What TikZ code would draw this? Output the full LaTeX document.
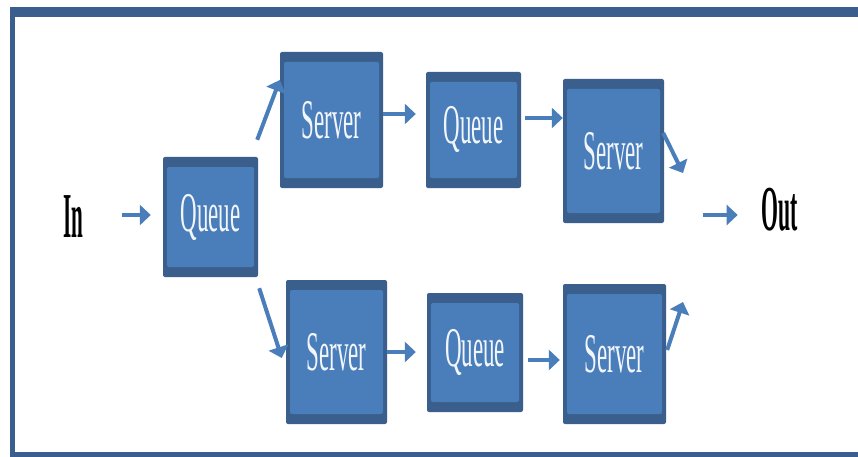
\documentclass[tikz,border=0pt]{standalone}
\usepackage{fontspec}
\setmainfont{Liberation Serif}
\usetikzlibrary{arrows.meta,calc}
\definecolor{framecol}{HTML}{3A5F8E}
\definecolor{boxdark}{HTML}{3B5F8C}
\definecolor{boxlight}{HTML}{4A7EBB}
\definecolor{arrowcol}{HTML}{4A7EBB}
\definecolor{boxtext}{HTML}{F2F6FB}
\newcommand\boxlabel[1]{\scalebox{0.41}[1]{\fontsize{56}{56}\selectfont #1}}
\newcommand\iolabel[2]{\scalebox{#2}[1]{\fontsize{64}{64}\selectfont\bfseries #1}}
\tikzset{
  boxnode/.style={fill=boxdark, rounded corners=2pt, inner sep=0pt, text=boxtext,
    path picture={\fill[boxlight] ([shift={(4pt,-10pt)}]path picture bounding box.north west)
      rectangle ([shift={(-4pt,10pt)}]path picture bounding box.south east);}},
  ionode/.style={inner sep=0pt, text=black},
  flow/.style={draw=arrowcol, line width=4pt, -{Triangle[width=20pt,length=11pt]}},
  framepart/.style={fill=framecol}
}
\begin{document}
\begin{tikzpicture}[x=1pt,y=-1pt]
\useasboundingbox (0,0) rectangle (858,457);
\fill[white] (0,0) rectangle (858,457);
% frame
\fill[framepart] (10,7) rectangle (858,17);
\fill[framepart] (10,7) rectangle (14.5,457);
\fill[framepart] (10,452) rectangle (858,457);
% boxes
\node[boxnode, minimum width=95pt, minimum height=120pt] (q1) at (210.5,217) {\boxlabel{Queue}};
\node[boxnode, minimum width=103pt, minimum height=136pt] (s1) at (331.5,120) {\boxlabel{Server}};
\node[boxnode, minimum width=95pt, minimum height=116pt] (q2) at (473.5,130) {\boxlabel{Queue}};
\node[boxnode, minimum width=101pt, minimum height=144pt] (s2) at (613.5,151) {\boxlabel{Server}};
\node[boxnode, minimum width=101pt, minimum height=144pt] (s3) at (336.5,352) {\boxlabel{Server}};
\node[boxnode, minimum width=96pt, minimum height=119pt] (q3) at (475,352.5) {\boxlabel{Queue}};
\node[boxnode, minimum width=103pt, minimum height=140pt] (s4) at (614.5,354) {\boxlabel{Server}};
% in / out
\node[ionode] (in) at (73,217) {\iolabel{In}{0.33}};
\node[ionode] (out) at (780,210) {\iolabel{Out}{0.34}};
\coordinate (c1) at (683,173);
\coordinate (c2) at (683,302);
\coordinate (c3) at (703,215);
% connectors
\draw[flow, shorten <=39pt, shorten >=12pt] ($(in.east)+(0,-2)$) -- ($(q1.west)+(0,-2)$);
\draw[flow] ($(q1.north east)+(-1,-17)$) -- ($(s1.west)+(0,-40)$);
\draw[flow] ($(q1.south east)+(1,11)$) -- ($(s3.west)+(-4,6)$);
\draw[flow, shorten >=10pt] ($(s1.east)+(0,-6)$) -- ($(q2.west)+(0,-16)$);
\draw[flow, shorten <=4pt] (q2.east |- 0,118) -- (s2.west |- 0,118);
\draw[flow, shorten >=11pt] (s3.east) -- (q3.west |- s3.east);
\draw[flow, shorten <=5pt, shorten >=3pt] (q3.east |- 0,360) -- (s4.west |- 0,360);
\draw[flow] ($(s2.east)+(-1,-18)$) -- (c1);
\draw[flow] ($(s4.east)+(1,-4)$) -- (c2);
\draw[flow, shorten >=24pt] (c3) -- (out.west |- c3);
\end{tikzpicture}
\end{document}
